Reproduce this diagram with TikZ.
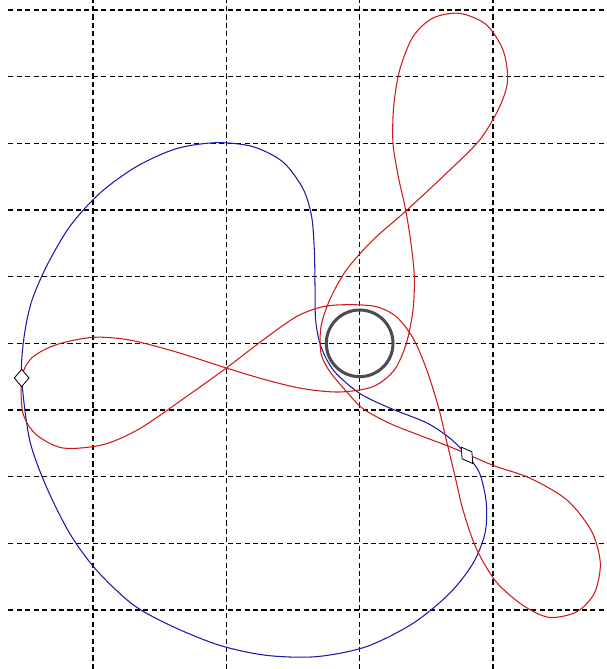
\documentclass[tikz,border=0pt]{standalone}
\definecolor{orbitred}{RGB}{205,25,25}
\definecolor{orbitblue}{RGB}{25,25,170}
\tikzset{
  gridline/.style={black, line width=0.55pt, dash pattern=on 2.2pt off 1.4pt},
  redorbit/.style={orbitred, line width=0.45pt},
  blueorbit/.style={orbitblue, line width=0.45pt},
  marker/.style={black, fill=white, line width=0.35pt},
}
\begin{document}
\begin{tikzpicture}
\useasboundingbox (-5.395,-4.885) rectangle (3.71,5.15);

% dashed grid
\foreach \y in {-4,...,5}
  \draw[gridline] (-5.27,\y) -- (3.71,\y);
\foreach \x in {-4,-2,0,2}
  \draw[gridline] (\x,-4.885) -- (\x,5.15);

\coordinate (left) at (-5.07,-0.52);
\coordinate (right) at (1.61,-1.68);
\coordinate (centre) at (0,0);

% blue orbit
\draw[blueorbit] plot[smooth cycle, tension=0.5] coordinates {
  (left) (-5.04,0.05) (-4.93,0.60) (-4.70,1.15) (-4.35,1.75) (-3.90,2.25)
  (-3.35,2.65) (-2.75,2.92) (-2.15,3.01) (-1.60,2.95) (-1.15,2.72)
  (-0.85,2.32) (-0.72,1.90) (-0.68,1.40) (-0.67,0.90) (-0.66,0.35)
  (-0.58,-0.05) (-0.38,-0.42) (0.00,-0.75) (0.45,-0.97) (1.00,-1.19)
  (1.35,-1.42) (right) (1.80,-1.95) (1.90,-2.40) (1.88,-2.85)
  (1.70,-3.30) (1.35,-3.75) (0.80,-4.20) (0.10,-4.55) (-0.65,-4.70)
  (-1.40,-4.68) (-2.10,-4.53) (-2.80,-4.25) (-3.40,-3.92) (-3.95,-3.40)
  (-4.35,-2.85) (-4.70,-2.15) (-4.95,-1.45)};

% red orbit
\draw[redorbit] plot[smooth cycle, tension=0.5] coordinates {
  (left) (-4.92,-0.22) (-4.55,-0.02) (-4.00,0.09) (-3.45,0.05) (-2.75,-0.13)
  (-2.00,-0.37) (-1.40,-0.55) (-0.85,-0.68) (-0.30,-0.73) (0.20,-0.65)
  (0.52,-0.40) (0.70,0.00) (0.80,0.50) (0.82,1.00) (0.77,1.50)
  (0.69,2.00) (0.58,2.50) (0.50,3.00) (0.51,3.55) (0.60,4.10)
  (0.80,4.60) (1.10,4.88) (1.50,4.95) (1.90,4.78) (2.15,4.40)
  (2.22,3.95) (2.10,3.55) (1.80,3.05) (1.30,2.55) (0.71,2.00)
  (0.20,1.55) (-0.20,1.10) (-0.45,0.65) (-0.58,0.25) (-0.58,-0.15)
  (-0.45,-0.42) (-0.20,-0.72) (0.05,-0.98) (0.45,-1.20) (0.90,-1.38)
  (1.40,-1.57) (2.00,-1.83) (2.55,-2.02) (3.11,-2.35) (3.48,-2.82)
  (3.61,-3.30) (3.52,-3.75) (3.25,-4.03) (2.84,-4.11) (2.45,-3.93)
  (2.05,-3.58) (1.75,-3.08) (1.55,-2.50) (1.42,-1.95) (1.30,-1.45)
  (1.18,-0.95) (1.00,-0.38) (0.80,0.08) (0.55,0.40) (0.25,0.55)
  (-0.15,0.58) (-0.55,0.55) (-0.95,0.40) (-1.45,0.05) (-2.00,-0.37)
  (-2.60,-0.80) (-3.30,-1.28) (-3.85,-1.52) (-4.45,-1.57) (-4.85,-1.37)
  (-5.05,-1.05)};

% central body
\draw[black!70, line width=1.3pt] (centre) circle (0.5);

% markers
\draw[marker] (left) +(0,0.13) -- +(0.11,0) -- +(0,-0.13) -- +(-0.11,0) -- cycle;
\draw[marker, rotate around={35:(right)}] (right) +(0,0.15) -- +(0.09,0) -- +(0,-0.15) -- +(-0.09,0) -- cycle;

\end{tikzpicture}
\end{document}
